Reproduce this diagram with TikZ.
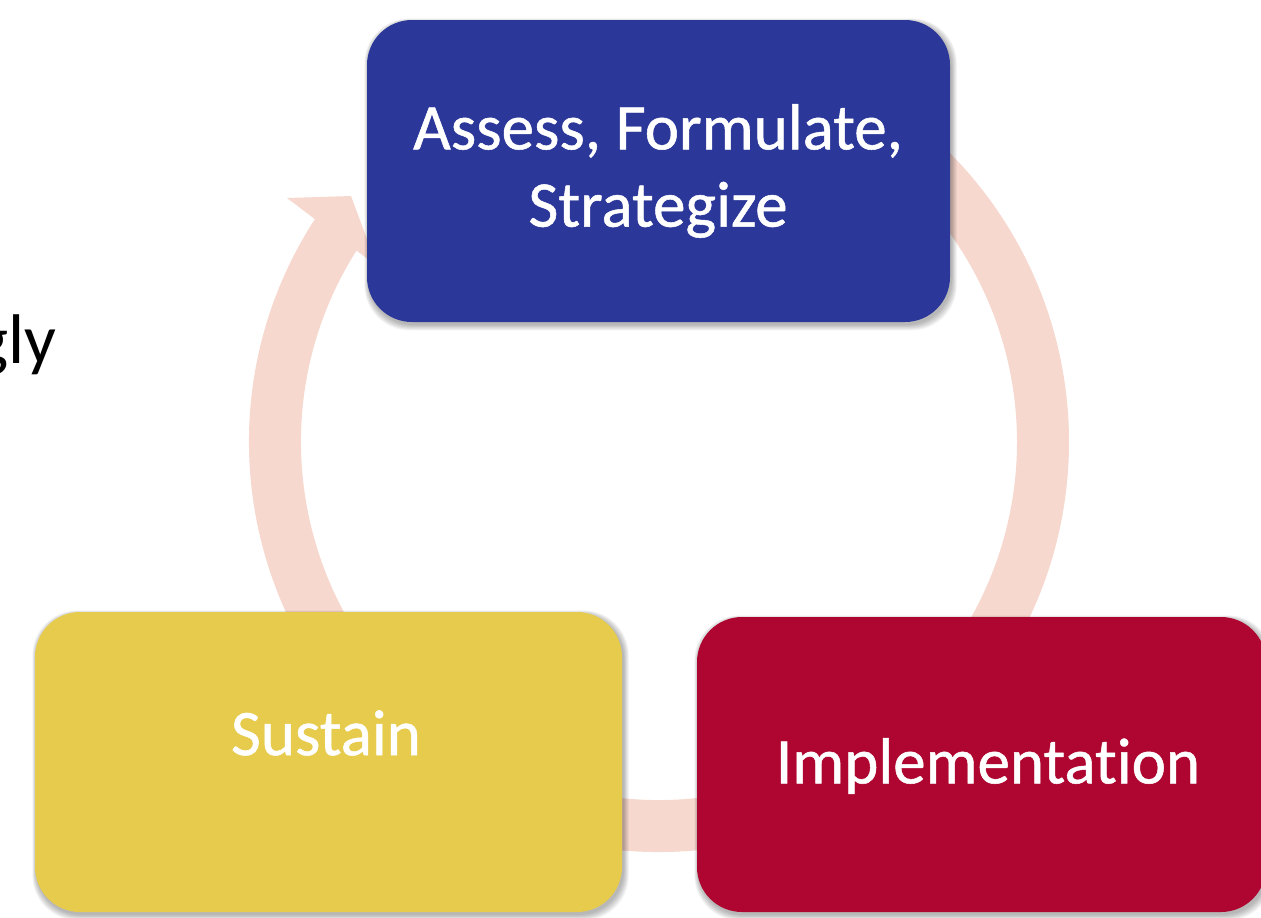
\documentclass[tikz,border=0pt]{standalone}
\usepackage{fontspec}
\setmainfont[Ligatures=NoCommon]{Carlito}
\newfontfamily\labelfont[Ligatures=NoCommon, FakeBold=0.8]{Carlito}
\definecolor{ringc}{RGB}{247,216,206}
\definecolor{bluebox}{RGB}{43,55,153}
\definecolor{yellowbox}{RGB}{230,203,76}
\definecolor{redbox}{RGB}{174,6,48}
\tikzset{
  stage/.style={rounded corners=0.9cm},
  label/.style={text=white, font=\labelfont\fontsize{37}{44}\selectfont, align=center},
}
% rounded stage box with a soft shadow: x1, y1, x2, y2, colour
\newcommand\stagebox[5]{%
  \foreach \k in {0,...,6} {
    \fill[black, opacity=0.045, rounded corners=0.9cm]
      (#1-\k*0.6+1,#2-\k*0.6+2) rectangle (#3+\k*0.8+2,#4+\k*0.9+3);
  }
  \fill[stage, #5] (#1,#2) rectangle (#3,#4);
}
\begin{document}
\begin{tikzpicture}[x=0.02cm,y=-0.02cm]
  \useasboundingbox (0,0) rectangle (1261,917);
  \fill[white] (0,0) rectangle (1261,917);

  % cycle ring behind the stages (angles counted with y pointing up)
  \begin{scope}[shift={(659,442)}, y=0.02cm]
    \draw[ringc, line width=1.04cm] (147:384) arc[start angle=147, end angle=420, radius=384];
  \end{scope}
  % arrowhead at the end of the ring, pointing into the first stage
  \fill[ringc] (287,198) -- (351,196) -- (377,266) -- cycle;

  % stages
  \stagebox{367}{20}{950}{322}{bluebox}
  \stagebox{35}{612}{622}{912}{yellowbox}
  \stagebox{697}{617}{1266}{912}{redbox}
  \coordinate (assess) at (658,171);
  \coordinate (sustain) at (326,733);
  \coordinate (impl) at (988,766);
  \node[label] (tassess) at (assess) {Assess, Formulate,\\Strategize};
  \node[label] (tsustain) at (sustain) {Sustain};
  \node[label] (timpl) at (impl) {Implementation};

  % tail of a word from the margin
  \node[anchor=base east, font=\fontsize{40}{48}\selectfont, inner sep=0pt] (word) at (57,363) {gly};
\end{tikzpicture}
\end{document}
